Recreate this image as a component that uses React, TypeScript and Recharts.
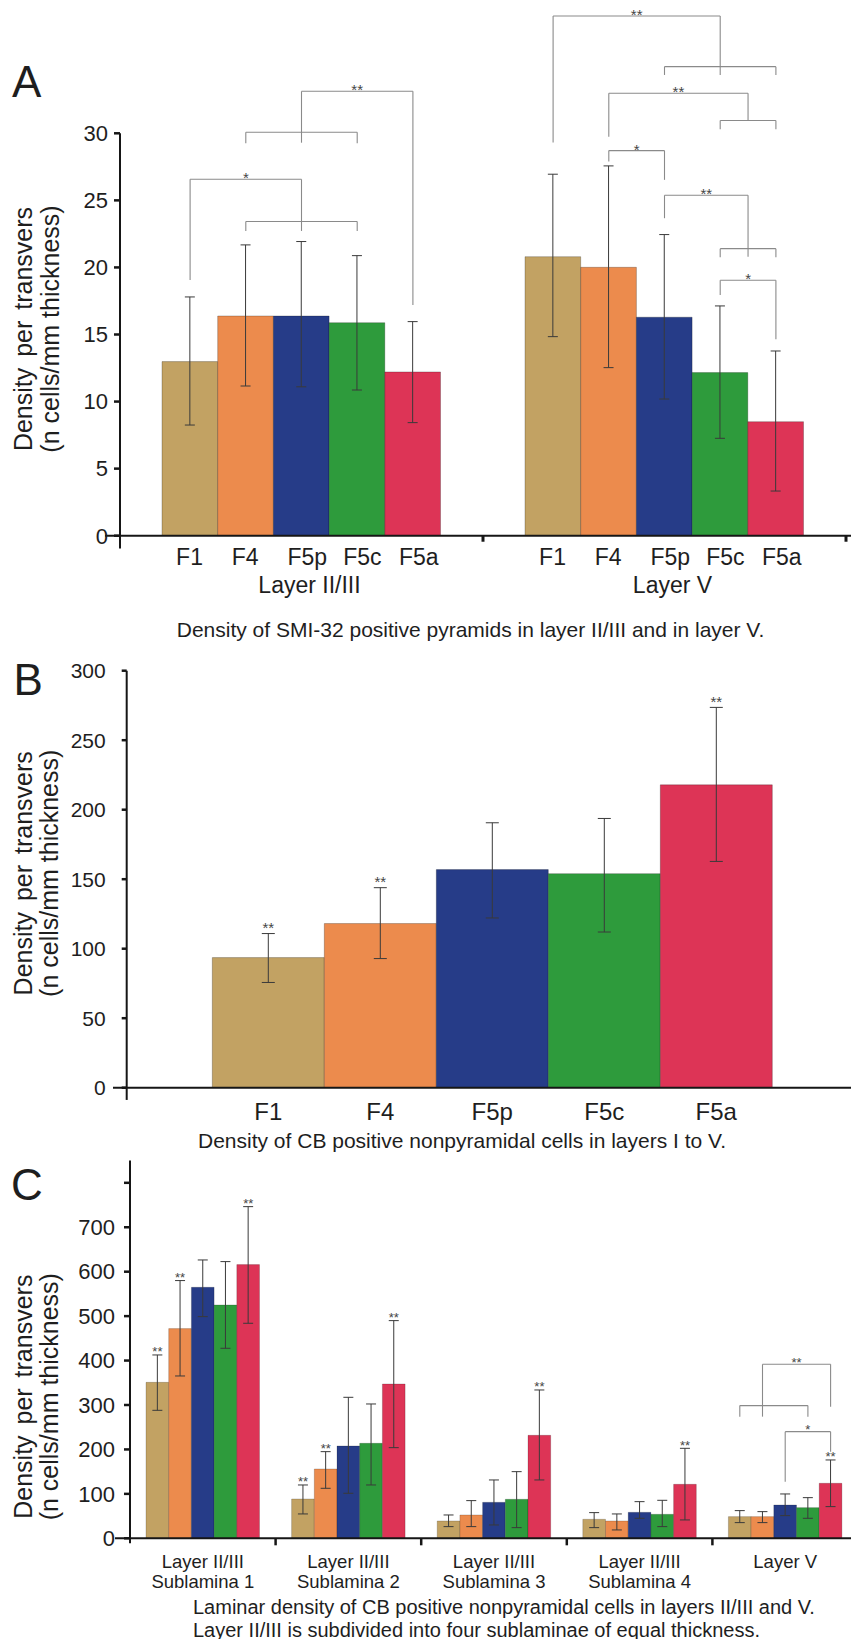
import React from 'react';
import { BarChart, Bar, XAxis, YAxis, ErrorBar, ReferenceLine, ReferenceDot, Cell } from 'recharts';

const FONT = '"Liberation Sans", Arial, Helvetica, sans-serif';
const INK = '#1e1e1e';
const AXIS = '#161616';
const ERR = '#3a3a3a';
const BRACKET = '#8a8a8a';
const STAR = '#454545';

const AREAS = ['F1', 'F4', 'F5p', 'F5c', 'F5a'];
const AREA_COLORS = ['#C2A263', '#EC8B4D', '#263C88', '#2E9B3C', '#DD3456'];

// ---------- Panel A ----------
const groupsA = ['Layer II/III', 'Layer V'];
const meanA_L23 = [12.98, 16.38, 16.38, 15.88, 12.21];
const upperA_L23 = [17.8, 21.68, 21.93, 20.88, 15.96];
const lowerA_L23 = [8.25, 11.16, 11.1, 10.86, 8.43];
const meanA_L5 = [20.8, 20.01, 16.29, 12.16, 8.5];
const upperA_L5 = [26.95, 27.57, 22.45, 17.13, 13.77];
const lowerA_L5 = [14.84, 12.53, 10.19, 7.26, 3.33];
const ticksA = [0, 5, 10, 15, 20, 25, 30];
// brackets: group, from bar, to bar, height, left leg end, right leg end, label
const bracketsA = [
  { g: 0, a: 1, b: 3, y: 23.42, ya: 22.72, yb: 22.72, label: '' },
  { g: 0, a: 0, b: 2, y: 26.57, ya: 19.07, yb: 22.72, label: '*' },
  { g: 0, a: 1, b: 3, y: 30.08, ya: 29.26, yb: 29.26, label: '' },
  { g: 0, a: 2, b: 4, y: 33.13, ya: 29.3, yb: 17.2, label: '**' },
  { g: 1, a: 0, b: 3, y: 38.75, ya: 29.31, yb: 34.35, label: '**' },
  { g: 1, a: 2, b: 4, y: 34.97, ya: 34.35, yb: 34.35, label: '' },
  { g: 1, a: 1, b: 3.5, y: 32.99, ya: 29.75, yb: 30.95, label: '**' },
  { g: 1, a: 3, b: 4, y: 30.95, ya: 30.3, yb: 30.3, label: '' },
  { g: 1, a: 1, b: 2, y: 28.71, ya: 27.9, yb: 26.53, label: '*' },
  { g: 1, a: 2, b: 3.5, y: 25.38, ya: 23.67, yb: 20.8, label: '**' },
  { g: 1, a: 3, b: 4, y: 21.4, ya: 20.76, yb: 20.76, label: '' },
  { g: 1, a: 3, b: 4, y: 19.04, ya: 17.95, yb: 14.65, label: '*' },
];

// ---------- Panel B ----------
const meanB = [93.6, 118.1, 156.9, 154.0, 217.9];
const upperB = [110.9, 143.9, 190.6, 193.7, 273.6];
const lowerB = [75.7, 92.9, 122.1, 112.0, 162.8];
const sigB = ['**', '**', '', '', '**'];
const ticksB = [0, 50, 100, 150, 200, 250, 300];

// ---------- Panel C ----------
const groupsC1 = ['Layer II/III', 'Layer II/III', 'Layer II/III', 'Layer II/III', 'Layer V'];
const groupsC2 = ['Sublamina 1', 'Sublamina 2', 'Sublamina 3', 'Sublamina 4', ''];
const meanC_S1 = [351, 471.9, 564.9, 525.1, 615.9];
const upperC_S1 = [412.6, 580, 626.4, 622.7, 746.4];
const lowerC_S1 = [288, 365.3, 498.9, 427.6, 483.9];
const meanC_S2 = [88.5, 156, 207.8, 213.8, 347.3];
const upperC_S2 = [120, 195, 317.3, 302.3, 489.9];
const lowerC_S2 = [54.8, 112.5, 101.3, 120, 204];
const meanC_S3 = [39, 52.5, 81, 87.8, 231.8];
const upperC_S3 = [52.5, 84.8, 131.3, 150, 333.8];
const lowerC_S3 = [26.3, 26.3, 30, 24, 131.3];
const meanC_S4 = [42.8, 39, 58.5, 54, 121.5];
const upperC_S4 = [57.8, 54.8, 82.5, 85.5, 202.5];
const lowerC_S4 = [24, 18.8, 45, 26.3, 41.3];
const meanC_L5 = [48.8, 48.8, 75, 69, 123.8];
const upperC_L5 = [62.3, 60, 99.8, 91.5, 176.3];
const lowerC_L5 = [35.3, 35.3, 51, 45, 71.3];
const sigC = [
  ['**', '**', '', '', '**'],
  ['**', '**', '', '', '**'],
  ['', '', '', '', '**'],
  ['', '', '', '', '**'],
  ['', '', '', '', '**'],
];
const ticksC = [0, 100, 200, 300, 400, 500, 600, 700, 800];
const bracketsC = [
  { g: 4, a: 0, b: 3, y: 298.6, ya: 273.8, yb: 273.8, label: '' },
  { g: 4, a: 1, b: 4, y: 391.6, ya: 273.8, yb: 296.3, label: '**' },
  { g: 4, a: 2, b: 4, y: 240, ya: 127.5, yb: 195, label: '*' },
];

// ---------- layout constants ----------
const W = 859;
const A_TOP = 0, A_H = 610, A_LEFT = 120, A_PLOT_W = 726, A_BAR = 55.7;
const A_BAND = A_PLOT_W / 2;
const B_TOP = 600, B_H = 560, B_LEFT = 126.7, B_PLOT_W = W - 126.7;
const C_TOP = 1150, C_H = 497, C_LEFT = 130, C_PLOT_W = 728, C_BAR = 22.7;
const C_BAND = C_PLOT_W / 5;

// "span" maps the first row to 0 and the last to the number of groups, so the
// helper numeric axis covers the plot in group units.
function buildRows(keys: string[], means: number[][], uppers: number[][], lowers: number[][]) {
  const n = keys.length;
  return keys.map((k, gi) => {
    const row: any = { key: k, span: (gi * n) / (n - 1) };
    AREAS.forEach((a, i) => {
      row[a] = means[gi][i];
      row[a + '_err'] = [means[gi][i] - lowers[gi][i], uppers[gi][i] - means[gi][i]];
    });
    return row;
  });
}

const rowsA = buildRows(groupsA, [meanA_L23, meanA_L5], [upperA_L23, upperA_L5], [lowerA_L23, lowerA_L5]);
const keysC = groupsC1.map((l, i) => `${l} ${groupsC2[i]}`.trim());
const rowsC = buildRows(
  keysC,
  [meanC_S1, meanC_S2, meanC_S3, meanC_S4, meanC_L5],
  [upperC_S1, upperC_S2, upperC_S3, upperC_S4, upperC_L5],
  [lowerC_S1, lowerC_S2, lowerC_S3, lowerC_S4, lowerC_L5]
);
const rowsB = AREAS.map((a, i) => ({
  area: a,
  span: i / (AREAS.length - 1),
  value: meanB[i],
  err: [meanB[i] - lowerB[i], upperB[i] - meanB[i]],
}));

const posA = (g: number, i: number) => g + 0.5 + (i - 2) * (A_BAR / A_BAND);
const posC = (g: number, i: number) => g + 0.5 + (i - 2) * (C_BAR / C_BAND);

function seg(key: string, x1: number, y1: number, x2: number, y2: number, color: string, w: number) {
  return (
    <ReferenceLine
      key={key}
      xAxisId="n"
      segment={[{ x: x1, y: y1 }, { x: x2, y: y2 }]}
      stroke={color}
      strokeWidth={w}
      ifOverflow="visible"
    />
  );
}

function star(key: string, axisId: string, x: any, y: number, text: string, size: number, lift: number) {
  return (
    <ReferenceDot
      key={key}
      xAxisId={axisId}
      x={x}
      y={y}
      r={0}
      ifOverflow="visible"
      shape={(p: any) => (
        <text x={p.cx} y={p.cy - lift + 0.57 * size} textAnchor="middle" fontSize={size} fontFamily={FONT} fill={STAR}>
          {text}
        </text>
      )}
    />
  );
}

function brackets(list: any[], pos: (g: number, i: number) => number, prefix: string, size: number, lift: number) {
  const out: any[] = [];
  list.forEach((br, k) => {
    const xa = pos(br.g, br.a);
    const xb = pos(br.g, br.b);
    out.push(seg(`${prefix}h${k}`, xa, br.y, xb, br.y, BRACKET, 1.1));
    out.push(seg(`${prefix}l${k}`, xa, br.y, xa, br.ya, BRACKET, 1.1));
    out.push(seg(`${prefix}r${k}`, xb, br.y, xb, br.yb, BRACKET, 1.1));
    if (br.label) out.push(star(`${prefix}s${k}`, 'n', (xa + xb) / 2, br.y, br.label, size, lift));
  });
  return out;
}

const ATick = (props: any) => {
  const { x, y, payload } = props;
  return (
    <g fontFamily={FONT} fill={INK} fontSize={23}>
      {AREAS.map((a, i) => (
        <text key={a} x={x + (i - 2) * A_BAR - 14} y={y + 29.3} textAnchor="start">
          {a}
        </text>
      ))}
      <text x={x + 8} y={y + 57.6} textAnchor="middle">
        {payload.value}
      </text>
    </g>
  );
};

const BTick = (props: any) => {
  const { x, y, payload } = props;
  return (
    <text x={x} y={y + 32.3} textAnchor="middle" fontFamily={FONT} fontSize={24} fill={INK}>
      {payload.value}
    </text>
  );
};

const CTick = (props: any) => {
  const { x, y, payload } = props;
  const i = keysC.indexOf(payload.value);
  return (
    <g fontFamily={FONT} fontSize={18.5} fill={INK}>
      <text x={x} y={y + 30} textAnchor="middle">
        {groupsC1[i]}
      </text>
      {groupsC2[i] ? (
        <text x={x} y={y + 50} textAnchor="middle">
          {groupsC2[i]}
        </text>
      ) : null}
    </g>
  );
};

const YTitle = ({ cy }: { cy: number }) => (
  <g fontFamily={FONT} fontSize={25} fill={INK}>
    <text x={31.7} y={cy} transform={`rotate(-90 31.7 ${cy})`} textAnchor="middle" wordSpacing={4}>
      Density per transvers
    </text>
    <text x={58.5} y={cy} transform={`rotate(-90 58.5 ${cy})`} textAnchor="middle">
      (n cells/mm thickness)
    </text>
  </g>
);

const yAxisCommon = {
  axisLine: { stroke: AXIS, strokeWidth: 2 },
  tickLine: { stroke: AXIS, strokeWidth: 2.5 },
  width: 60,
  allowDataOverflow: true,
};

export default function App() {
  return (
    <div style={{ position: 'relative', width: W, height: 1647, margin: -8, overflow: 'hidden', background: '#fff' }}>
      {/* Panel A */}
      <div style={{ position: 'absolute', left: 0, top: A_TOP }}>
        <BarChart
          width={W}
          height={A_H}
          data={rowsA}
          margin={{ top: 133.3, right: W - A_LEFT - A_PLOT_W, bottom: 14.3, left: A_LEFT - 60 }}
          barGap={0}
          barCategoryGap={0}
        >
          <XAxis xAxisId="c" dataKey="key" axisLine={false} tickLine={false} tickSize={0} tickMargin={0} height={60} interval={0} tick={<ATick />} />
          <XAxis xAxisId="n" dataKey="span" type="number" domain={[0, 2]} allowDataOverflow hide />
          <YAxis
            {...yAxisCommon}
            domain={[0, 30]}
            ticks={ticksA}
            tickSize={6}
            tickMargin={6}
            tick={{ fontSize: 22, fill: INK, fontFamily: FONT }}
          />
          {AREAS.map((a, i) => (
            <Bar key={a} xAxisId="c" dataKey={a} fill={AREA_COLORS[i]} barSize={A_BAR} stroke="rgba(0,0,0,0.3)" strokeWidth={0.8} isAnimationActive={false}>
              <ErrorBar dataKey={a + '_err'} width={5} stroke={ERR} strokeWidth={1} />
            </Bar>
          ))}
          {seg('ax', -15 / A_BAND, 0, (W - A_LEFT) / A_BAND, 0, AXIS, 2)}
          {seg('ax0', 0, 0, 0, -0.95, AXIS, 2)}
          {seg('ax1', 1, 0, 1, -0.45, AXIS, 3)}
          {seg('ax2', 2, 0, 2, -0.45, AXIS, 3)}
          {brackets(bracketsA, posA, 'a', 15, 4.5)}
        </BarChart>
      </div>

      {/* Panel B */}
      <div style={{ position: 'absolute', left: 0, top: B_TOP }}>
        <BarChart
          width={W}
          height={B_H}
          data={rowsB}
          margin={{ top: 70.7, right: 0, bottom: 12.3, left: B_LEFT - 60 }}
          barGap={0}
          barCategoryGap={0}
        >
          <XAxis xAxisId="c" dataKey="area" padding={{ left: 85.6, right: 86.7 }} axisLine={false} tickLine={false} tickSize={0} tickMargin={0} height={60} interval={0} tick={<BTick />} />
          <XAxis xAxisId="n" dataKey="span" type="number" domain={[0, 1]} allowDataOverflow hide />
          <YAxis
            {...yAxisCommon}
            domain={[0, 300]}
            ticks={ticksB}
            tickSize={5}
            tickMargin={16}
            tick={{ fontSize: 21, fill: INK, fontFamily: FONT }}
          />
          <Bar xAxisId="c" dataKey="value" stroke="rgba(0,0,0,0.3)" strokeWidth={0.8} isAnimationActive={false}>
            {rowsB.map((r, i) => (
              <Cell key={r.area} fill={AREA_COLORS[i]} />
            ))}
            <ErrorBar dataKey="err" width={6.5} stroke={ERR} strokeWidth={1} />
          </Bar>
          {seg('bx', -13.7 / B_PLOT_W, 0, 1, 0, AXIS, 2)}
          {seg('bx0', 0, 0, 0, -8.8, AXIS, 2)}
          {AREAS.map((a, i) => (sigB[i] ? star(`bs${i}`, 'c', a, upperB[i], sigB[i], 15, 9) : null))}
        </BarChart>
      </div>

      {/* Panel C */}
      <div style={{ position: 'absolute', left: 0, top: C_TOP }}>
        <BarChart
          width={W}
          height={C_H}
          data={rowsC}
          margin={{ top: 10.6, right: W - C_LEFT - C_PLOT_W, bottom: 48.7, left: C_LEFT - 60 }}
          barGap={0}
          barCategoryGap={0}
        >
          <XAxis xAxisId="c" dataKey="key" axisLine={false} tickLine={false} tickSize={0} tickMargin={0} height={60} interval={0} tick={<CTick />} />
          <XAxis xAxisId="n" dataKey="span" type="number" domain={[0, 5]} allowDataOverflow hide />
          <YAxis
            {...yAxisCommon}
            domain={[0, 850]}
            ticks={ticksC}
            tickSize={6}
            tickMargin={9}
            tickFormatter={(v: number) => (v === 800 ? '' : String(v))}
            tick={{ fontSize: 22, fill: INK, fontFamily: FONT }}
          />
          {AREAS.map((a, i) => (
            <Bar key={a} xAxisId="c" dataKey={a} fill={AREA_COLORS[i]} barSize={C_BAR} stroke="rgba(0,0,0,0.3)" strokeWidth={0.6} isAnimationActive={false}>
              <ErrorBar dataKey={a + '_err'} width={5} stroke={ERR} strokeWidth={1} />
            </Bar>
          ))}
          {seg('cx', -15 / C_BAND, 0, (W - C_LEFT) / C_BAND, 0, AXIS, 2)}
          {seg('cx0', 0, 0, 0, -11.3, AXIS, 2)}
          {[1, 2, 3, 4, 5].map((k) => seg(`cxt${k}`, k, 0, k, -15.8, AXIS, 2.5))}
          {sigC.map((row, g) =>
            row.map((s, i) => {
              if (!s) return null;
              const upper = [upperC_S1, upperC_S2, upperC_S3, upperC_S4, upperC_L5][g][i];
              return star(`cs${g}_${i}`, 'n', posC(g, i), upper, s, 13, 6);
            })
          )}
          {brackets(bracketsC, posC, 'c', 13, 5)}
        </BarChart>
      </div>

      {/* Panel letters, axis titles and captions */}
      <svg width={W} height={1647} style={{ position: 'absolute', left: 0, top: 0, pointerEvents: 'none' }}>
        <g fontFamily={FONT} fill={INK}>
          <text x={12} y={96.7} fontSize={44}>A</text>
          <text x={13.5} y={695} fontSize={44}>B</text>
          <text x={11} y={1200} fontSize={44}>C</text>
          <text x={470.5} y={636.7} fontSize={21} textAnchor="middle">
            Density of SMI-32 positive pyramids in layer II/III and in layer V.
          </text>
          <text x={462} y={1148} fontSize={21} textAnchor="middle">
            Density of CB positive nonpyramidal cells in layers I to V.
          </text>
          <text x={193} y={1614} fontSize={20}>
            Laminar density of CB positive nonpyramidal cells in layers II/III and V.
          </text>
          <text x={193} y={1637} fontSize={20}>
            Layer II/III is subdivided into four sublaminae of equal thickness.
          </text>
        </g>
        <YTitle cy={329} />
        <YTitle cy={873.3} />
        <YTitle cy={1396.7} />
      </svg>
    </div>
  );
}
